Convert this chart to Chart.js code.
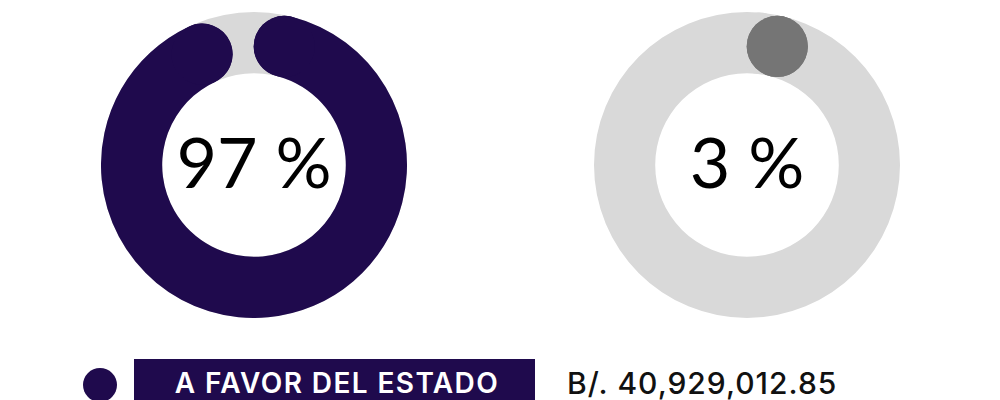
<!DOCTYPE html>
<html>
<head>
<meta charset="utf-8">
<script src="https://cdn.jsdelivr.net/npm/chart.js@4.4.1/dist/chart.umd.min.js"></script>
<style>
    body { margin: 0; background: #fff; }
    #page { position: relative; width: 1000px; height: 400px; overflow: hidden; background: #fff; }
    .ring { position: absolute; top: 12px; width: 306px; height: 306px; }
    .center { position: absolute; top: 126px; width: 306px; text-align: center;
              font-family: Lato, sans-serif; font-size: 70px; line-height: 1; color: #000; }
    #dot { position: absolute; left: 83px; top: 368px; width: 34px; height: 34px; border-radius: 50%; background: #1f0a4d; }
    #tag { position: absolute; left: 134px; top: 359px; width: 401px; height: 50px; background: #1f0a4d; }
    #tagText { position: absolute; left: 134px; top: 369px; width: 406px; text-align: center;
               font-family: Inter, sans-serif; font-weight: 600; font-size: 28px; line-height: 1;
               letter-spacing: 1.4px; color: #fff; }
    #amount { position: absolute; left: 567px; top: 368px; font-family: Inter, sans-serif; font-weight: 500;
              font-size: 30px; line-height: 1; letter-spacing: 1px; color: #111; }
</style>
</head>
<body>
<div id="page">
    <div class="ring" style="left:101px"><canvas id="leftChart"></canvas></div>
    <div class="ring" style="left:594px"><canvas id="rightChart"></canvas></div>
    <div class="center" id="leftLabel" style="left:101px"></div>
    <div class="center" id="rightLabel" style="left:594px"></div>
    <div id="dot"></div>
    <div id="tag"></div>
    <div id="tagText"></div>
    <div id="amount"></div>
</div>
<script>
const categories = ['A FAVOR DEL ESTADO', 'OTROS'];
const percentages = [97, 3];
const amounts = ['B/. 40,929,012.85'];

const purple = '#1f0a4d';
const trackGray = '#d9d9d9';
const dotGray = '#757575';

// grey track behind the whole ring
const trackPlugin = {
    id: 'track',
    beforeDatasetsDraw(chart) {
        const arc = chart.getDatasetMeta(0).data[0];
        if (!arc) return;
        const ctx = chart.ctx;
        ctx.save();
        ctx.beginPath();
        ctx.arc(arc.x, arc.y, arc.outerRadius, 0, Math.PI * 2);
        ctx.arc(arc.x, arc.y, arc.innerRadius, 0, Math.PI * 2, true);
        ctx.fillStyle = trackGray;
        ctx.fill();
        ctx.restore();
    }
};

// round ends like a stroked arc, caps kept inside the slice angles
const capPlugin = {
    id: 'caps',
    afterDatasetsDraw(chart) {
        const arc = chart.getDatasetMeta(0).data[0];
        if (!arc) return;
        const ctx = chart.ctx;
        const midR = (arc.innerRadius + arc.outerRadius) / 2;
        const capR = (arc.outerRadius - arc.innerRadius) / 2;
        const capAng = capR / midR;
        const a1 = arc.startAngle + capAng;
        const a2 = Math.max(a1, arc.endAngle - capAng);
        ctx.save();
        ctx.fillStyle = chart.data.datasets[0].capColor;
        [a1, a2].forEach(a => {
            ctx.beginPath();
            ctx.arc(arc.x + midR * Math.cos(a), arc.y + midR * Math.sin(a), capR, 0, Math.PI * 2);
            ctx.fill();
        });
        ctx.restore();
    }
};

function drawRing(id, values, color, capColor) {
    return new Chart(document.getElementById(id), {
        type: 'doughnut',
        data: {
            labels: [categories[0], categories[1]],
            datasets: [{
                data: values,
                backgroundColor: [color, 'rgba(0,0,0,0)'],
                capColor: capColor,
                borderWidth: 0,
                borderRadius: [31, 0]
            }]
        },
        options: {
            responsive: true,
            maintainAspectRatio: false,
            animation: false,
            cutout: '60%',
            plugins: {
                legend: { display: false },
                tooltip: { enabled: false }
            }
        },
        plugins: [trackPlugin, capPlugin]
    });
}

drawRing('leftChart', [percentages[0], percentages[1]], purple, purple);
// 3% slice is shorter than its own round end, so it shows as a single dot
drawRing('rightChart', [percentages[1], percentages[0]], trackGray, dotGray);

document.getElementById('leftLabel').textContent = percentages[0] + ' %';
document.getElementById('rightLabel').textContent = percentages[1] + ' %';
document.getElementById('tagText').textContent = categories[0];
document.getElementById('amount').textContent = amounts[0];
</script>
</body>
</html>
